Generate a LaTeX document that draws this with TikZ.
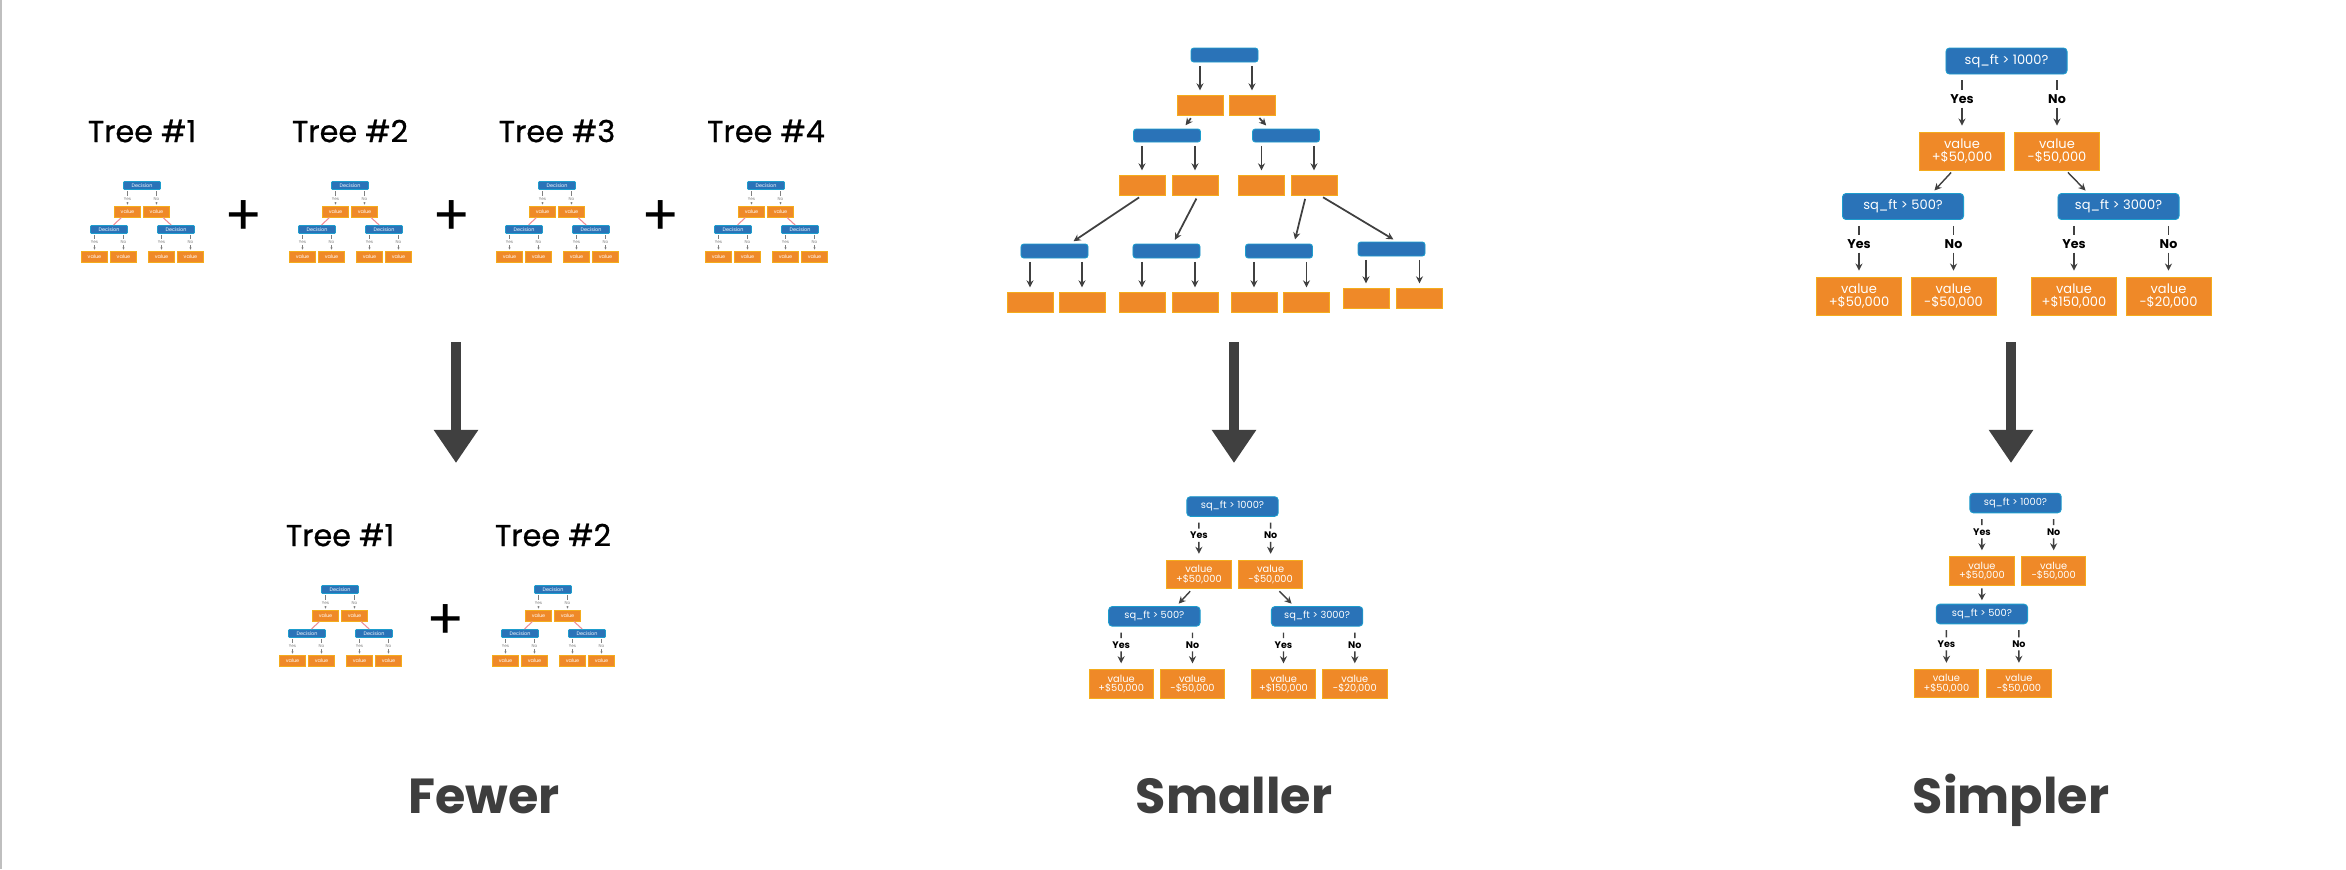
\documentclass[tikz,border=0pt]{standalone}
\usepackage{fontspec}
\setmainfont{Poppins}
\newfontfamily\treelabelfont{Poppins}[FakeBold=0.8]
\usetikzlibrary{arrows.meta,positioning}

\definecolor{treeblue}{RGB}{42,115,184}
\definecolor{treeorange}{RGB}{239,137,40}
\definecolor{arrowgray}{RGB}{64,64,64}
\definecolor{captiongray}{RGB}{62,62,62}
\definecolor{linkpink}{RGB}{236,140,150}

\tikzset{
  decbox/.style={fill=treeblue, draw=treeblue!70!cyan, line width=0.25pt, rounded corners=0.8pt, text=white, inner sep=0pt, align=center},
  valbox/.style={fill=treeorange, draw=treeorange!70!yellow, line width=0.25pt, text=white, inner sep=0pt, align=center},
  tinydec/.style={decbox, minimum width=0.37cm, minimum height=0.08cm, rounded corners=0.3pt, font=\fontsize{1.4}{1.6}\selectfont},
  tinyval/.style={valbox, minimum width=0.26cm, minimum height=0.11cm, font=\fontsize{1.4}{1.6}\selectfont},
  tinyans/.style={inner sep=0.25pt, text=gray, font=\fontsize{1.2}{1.4}\selectfont},
  tinytick/.style={gray, line width=0.12pt, shorten <=0.3pt},
  tinyarr/.style={gray, line width=0.12pt, -{Stealth[length=0.6pt,width=0.6pt]}, shorten >=0.3pt},
  tinylink/.style={linkpink, line width=0.3pt},
  middec/.style={decbox, minimum width=0.67cm, minimum height=0.14cm},
  midval/.style={valbox, minimum width=0.46cm, minimum height=0.2cm},
  midarr/.style={arrowgray, line width=0.5pt, -{Stealth[length=2pt,width=2pt]}, shorten <=1pt, shorten >=1.2pt},
  sqdec/.style={decbox, minimum width=1.21cm, minimum height=0.26cm, rounded corners=1pt, font=\fontsize{3.7}{4}\selectfont},
  sqval/.style={valbox, minimum width=0.85cm, minimum height=0.38cm, font=\fontsize{3.7}{3.6}\selectfont},
  ans/.style={inner sep=1pt, text=black, font=\bfseries\fontsize{3.6}{4}\selectfont},
  anstick/.style={arrowgray, line width=0.4pt, shorten <=1.7pt},
  ansarr/.style={arrowgray, line width=0.4pt, -{Stealth[length=2pt,width=2pt]}, shorten >=1.7pt},
  sqarr/.style={arrowgray, line width=0.4pt, -{Stealth[length=2pt,width=2pt]}, shorten <=0.8pt, shorten >=1pt},
  treelabel/.style={inner sep=0pt, font=\treelabelfont\fontsize{8.6}{10}\selectfont},
  pluslabel/.style={inner sep=0pt, font=\fontsize{16}{16}\selectfont},
  caption/.style={inner sep=0pt, anchor=base, text=captiongray, font=\bfseries\fontsize{14}{16}\selectfont},
  bigarrow/.style={arrowgray, line width=2.8pt, -{Triangle[length=9.4pt,width=12pt]}},
}

% the sq_ft tree, root at (0,0)
\newcommand\sqfttree[1]{%
  \node[sqdec] (#1r) at (0,0) {sq\_ft > 1000?};
  \node[sqval] (#1a) at (-44.5,90) {value\\+\$50,000};
  \node[sqval] (#1b) at (50.5,90) {value\\-\$50,000};
  \node[sqdec] (#1c) at (-103.5,145.5) {sq\_ft > 500?};
  \node[sqdec] (#1d) at (112,145.5) {sq\_ft > 3000?};
  \node[sqval] (#1e) at (-147.5,235) {value\\+\$50,000};
  \node[sqval] (#1f) at (-53,235) {value\\-\$50,000};
  \node[sqval] (#1g) at (67.5,235) {value\\+\$150,000};
  \node[sqval] (#1h) at (162,235) {value\\-\$20,000};
  \node[ans] (#1ya) at (-44.5,38) {Yes};
  \node[ans] (#1yb) at (50.5,38) {No};
  \node[ans] (#1ye) at (-147.5,183) {Yes};
  \node[ans] (#1yf) at (-53,183) {No};
  \node[ans] (#1yg) at (67.5,183) {Yes};
  \node[ans] (#1yh) at (162,183) {No};
  \foreach \p/\c in {r/a, r/b, c/e, c/f, d/g, d/h}{
    \draw[anstick] (#1\p.south -| #1y\c) -- (#1y\c);
    \draw[ansarr] (#1y\c) -- (#1\c);
  }
  \draw[sqarr] ([xshift=-0.09cm]#1a.south) -- ([xshift=0.29cm]#1c.north);
  \draw[sqarr] ([xshift=0.09cm]#1b.south) -- ([xshift=-0.305cm]#1d.north);
}

\begin{document}
\begin{tikzpicture}[x=0.01cm,y=-0.01cm]
  \fill[white] (0,0) rectangle (2346,869);
  \useasboundingbox (0,0) rectangle (2346,869);
  \draw[gray!50, line width=0.6pt] (1,0) -- (1,869);

  % Fewer: the small trees
  \foreach \i/\cx/\cy/\n in {1/142/185.5/1, 2/350/185.5/2, 3/557/185.5/3, 4/766/185.5/4, 5/340/589.5/1, 6/553/589.5/2}{
    \begin{scope}[shift={(\cx,\cy)}]
      \node[tinydec] (t\i-r) at (0,0) {Decision};
      \node[tinyval] (t\i-a) at (-14.5,26) {value};
      \node[tinyval] (t\i-b) at (14.5,26) {value};
      \node[tinydec] (t\i-c) at (-33,44) {Decision};
      \node[tinydec] (t\i-d) at (34,44) {Decision};
      \node[tinyval] (t\i-e) at (-47.5,71) {value};
      \node[tinyval] (t\i-f) at (-18.5,71) {value};
      \node[tinyval] (t\i-g) at (19.5,71) {value};
      \node[tinyval] (t\i-h) at (48.5,71) {value};
      \node[tinyans] (t\i-ya) at (-14.5,13.5) {Yes};
      \node[tinyans] (t\i-yb) at (14.5,13.5) {No};
      \node[tinyans] (t\i-ye) at (-47.5,56.5) {Yes};
      \node[tinyans] (t\i-yf) at (-18.5,56.5) {No};
      \node[tinyans] (t\i-yg) at (19.5,56.5) {Yes};
      \node[tinyans] (t\i-yh) at (48.5,56.5) {No};
      \foreach \p/\c in {r/a, r/b, c/e, c/f, d/g, d/h}{
        \draw[tinytick] (t\i-\p.south -| t\i-y\c) -- (t\i-y\c);
        \draw[tinyarr] (t\i-y\c) -- (t\i-\c);
      }
      \draw[tinylink] (t\i-a) -- (t\i-c);
      \draw[tinylink] (t\i-b) -- (t\i-d);
      \node[treelabel, above=0.38cm of t\i-r] (lab\i) {Tree \#\n};
    \end{scope}
  }
  \node[pluslabel] (plus1) at (244,218) {+};
  \node[pluslabel] (plus2) at (452,218) {+};
  \node[pluslabel] (plus3) at (661,218) {+};
  \node[pluslabel] (plus4) at (446,622) {+};

  % Smaller: the deep tree
  \node[middec] (mr) at (1224.5,55) {};
  \node[midval] (ma) at (1200,105) {};
  \node[midval] (mb) at (1252,105) {};
  \node[middec, minimum height=0.13cm] (mc) at (1167,135.5) {};
  \node[middec, minimum height=0.13cm] (md) at (1286,135.5) {};
  \node[midval] (me) at (1142,185) {};
  \node[midval] (mf) at (1195,185) {};
  \node[midval] (mg) at (1261.5,185) {};
  \node[midval] (mh) at (1314,185) {};
  \node[middec] (mi) at (1054.5,251) {};
  \node[middec] (mj) at (1166.5,251) {};
  \node[middec] (mk) at (1279,251) {};
  \node[middec] (ml) at (1391.5,249) {};
  \node[midval] (mn1) at (1030,302) {};
  \node[midval] (mn2) at (1082,302) {};
  \node[midval] (mn3) at (1142,302) {};
  \node[midval] (mn4) at (1195,302) {};
  \node[midval] (mn5) at (1254,302) {};
  \node[midval] (mn6) at (1306.5,302) {};
  \node[midval] (mn7) at (1366,298) {};
  \node[midval] (mn8) at (1419.5,298) {};
  \foreach \p/\c in {mr/ma, mr/mb, mc/me, mc/mf, md/mg, md/mh, mi/mn1, mi/mn2, mj/mn3, mj/mn4, mk/mn5, mk/mn6, ml/mn7, ml/mn8}
    \draw[midarr] (\p.south -| \c) -- (\c.north);
  \draw[midarr] ([xshift=-0.07cm]ma.south) -- ([xshift=0.16cm]mc.north);
  \draw[midarr] ([xshift=0.05cm]mb.south) -- ([xshift=-0.17cm]md.north);
  \draw[midarr] (me.south) -- ([xshift=0.155cm]mi.north);
  \draw[midarr] ([xshift=0.03cm]mf.south) -- ([xshift=0.065cm]mj.north);
  \draw[midarr] ([xshift=-0.08cm]mh.south) -- ([xshift=0.15cm]mk.north);
  \draw[midarr] ([xshift=0.06cm]mh.south) -- ([xshift=0.055cm]ml.north);

  % Simpler: the sq_ft tree
  \begin{scope}[shift={(2006.5,61)}]
    \sqfttree{s}
  \end{scope}

  % the smaller sq_ft tree
  \begin{scope}[shift={(1232.5,506.5)}, scale=0.755, transform shape]
    \sqfttree{p}
  \end{scope}

  % the simpler sq_ft tree
  \begin{scope}[shift={(2015.5,503)}, scale=0.755, transform shape]
    \node[sqdec] (qr) at (0,0) {sq\_ft > 1000?};
    \node[sqval] (qa) at (-44.5,90) {value\\+\$50,000};
    \node[sqval] (qb) at (50.5,90) {value\\-\$50,000};
    \node[sqdec] (qc) at (-44.5,147) {sq\_ft > 500?};
    \node[sqval] (qe) at (-91.5,239) {value\\+\$50,000};
    \node[sqval] (qf) at (4.5,239) {value\\-\$50,000};
    \node[ans] (qya) at (-44.5,38) {Yes};
    \node[ans] (qyb) at (50.5,38) {No};
    \node[ans] (qye) at (-91.5,186.5) {Yes};
    \node[ans] (qyf) at (4.5,186.5) {No};
    \foreach \p/\c in {r/a, r/b, c/e, c/f}{
      \draw[anstick] (q\p.south -| qy\c) -- (qy\c);
      \draw[ansarr] (qy\c) -- (q\c);
    }
    \draw[sqarr] (qa) -- (qc);
  \end{scope}

  % the three big arrows
  \coordinate (f0) at (456,342);
  \coordinate (f1) at (456,463);
  \coordinate (m0) at (1234,342);
  \coordinate (m1) at (1234,463);
  \coordinate (s0) at (2011,342);
  \coordinate (s1) at (2011,463);
  \draw[bigarrow] (f0) -- (f1);
  \draw[bigarrow] (m0) -- (m1);
  \draw[bigarrow] (s0) -- (s1);

  \node[caption] (capf) at (484,813) {Fewer};
  \node[caption] (capm) at (1234,813) {Smaller};
  \node[caption] (caps) at (2011,813) {Simpler};
\end{tikzpicture}
\end{document}
